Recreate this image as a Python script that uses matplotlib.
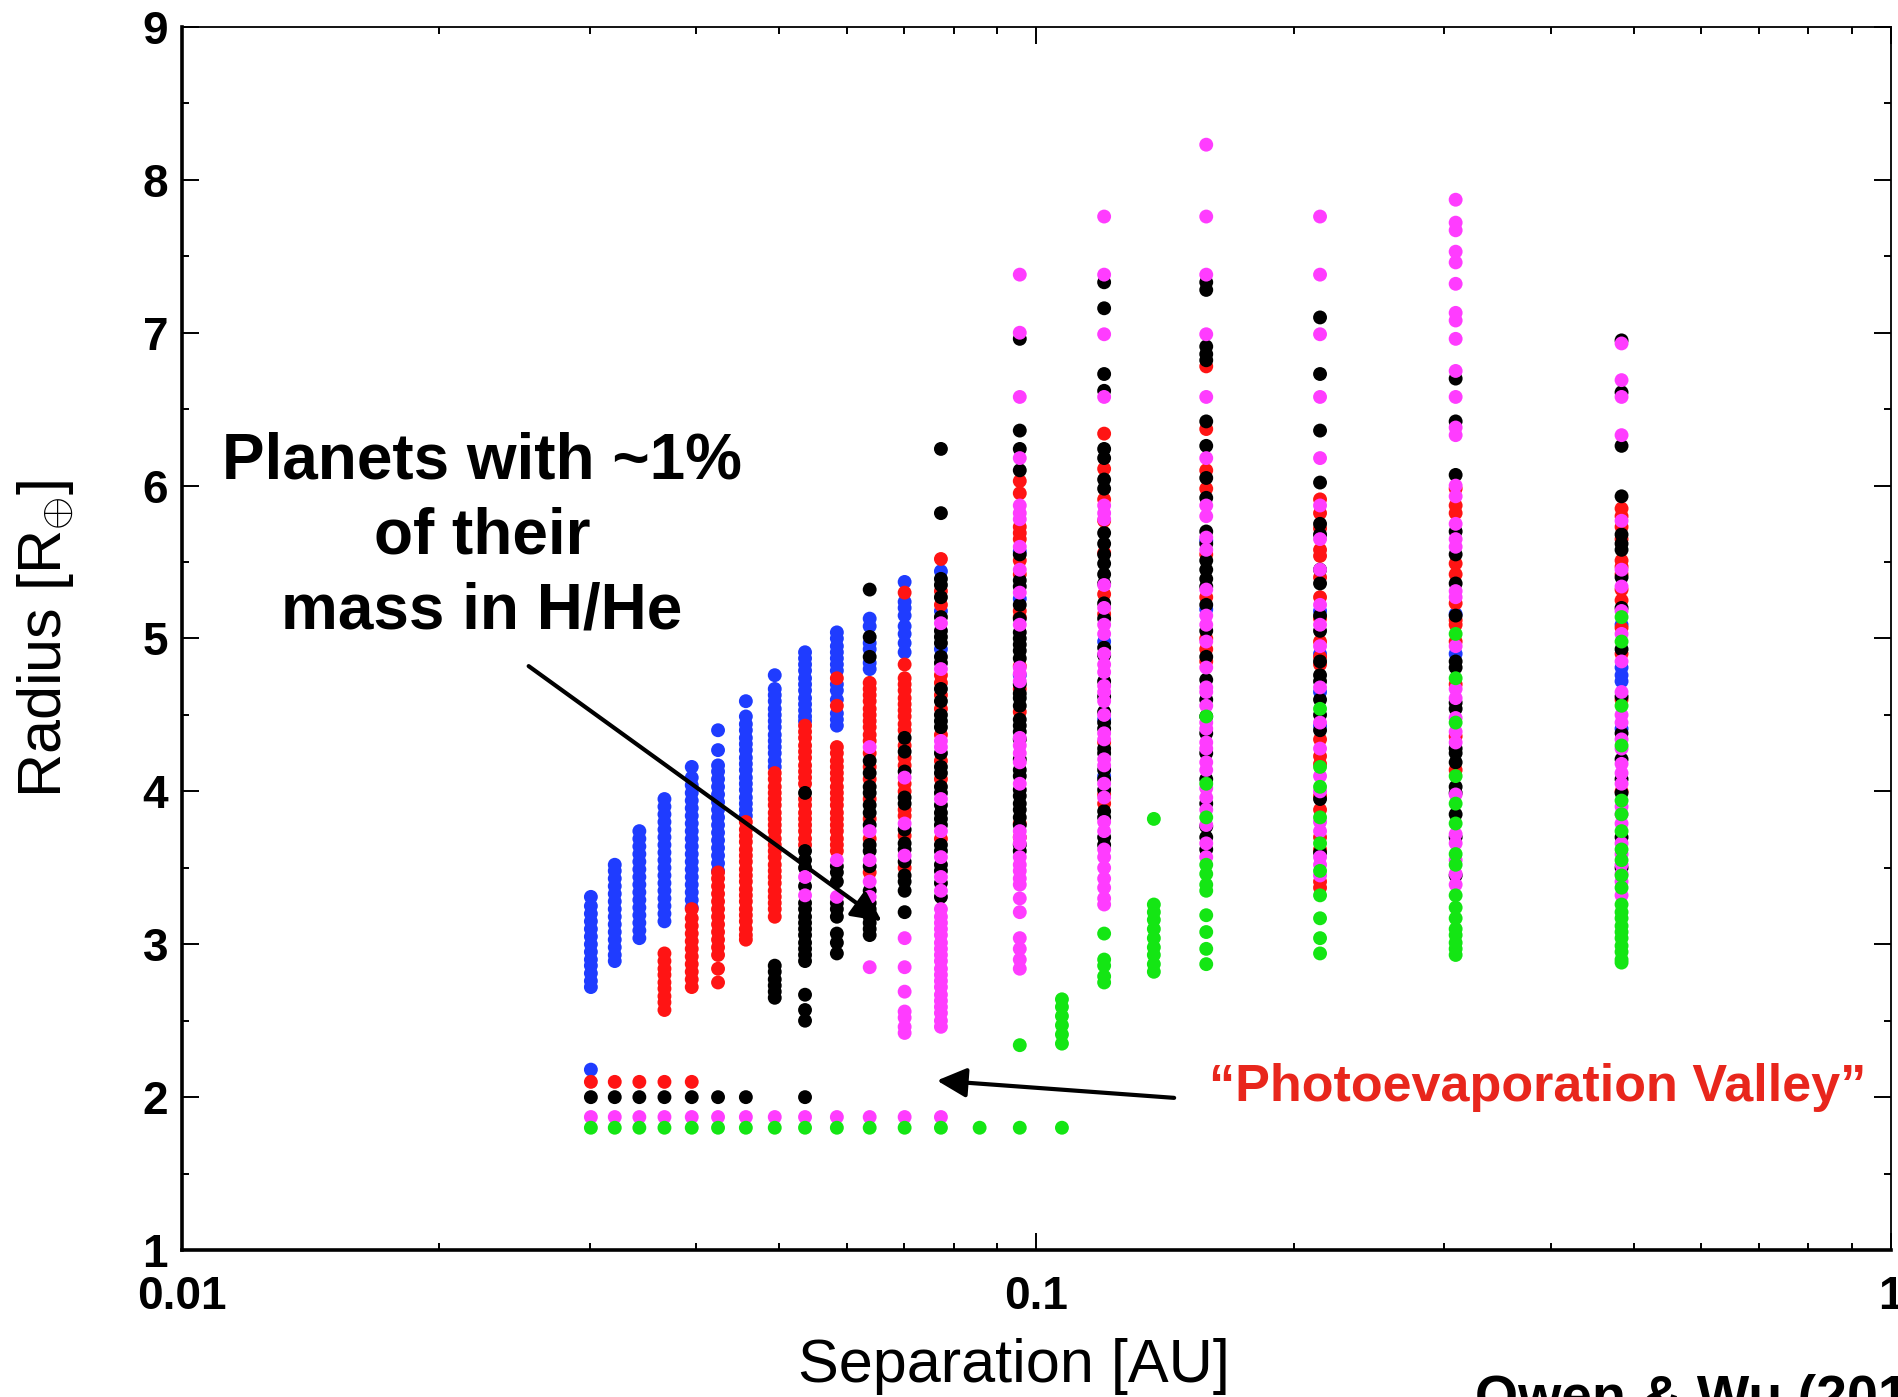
import matplotlib
matplotlib.use("Agg")
import matplotlib.pyplot as plt
from matplotlib.ticker import LogLocator, FixedLocator, MultipleLocator

plt.rcParams["font.family"] = ["Liberation Sans", "DejaVu Sans"]
plt.rcParams["mathtext.fontset"] = "custom"
plt.rcParams["mathtext.rm"] = "Liberation Sans"

# Separations of the model columns [AU]
sep = [0.0301, 0.0321, 0.0343, 0.0367, 0.0395, 0.0424, 0.0457, 0.0494,
       0.0536, 0.0584, 0.0638, 0.0701, 0.0773, 0.0858, 0.0956, 0.1071,
       0.120, 0.1372, 0.158, 0.2147, 0.3094, 0.4838]

# Radii per column, one list per colour [R_earth]
blue = [
    [2.18, 2.72, 2.76, 2.81, 2.86, 2.90, 2.95, 3.00, 3.05, 3.10, 3.15, 3.20, 3.25, 3.31],
    [2.89, 2.93, 2.98, 3.03, 3.08, 3.13, 3.18, 3.23, 3.28, 3.33, 3.38, 3.43, 3.48, 3.52],
    [3.04, 3.09, 3.14, 3.19, 3.24, 3.29, 3.34, 3.39, 3.44, 3.49, 3.54, 3.59, 3.64, 3.69, 3.74],
    [3.15, 3.20, 3.25, 3.30, 3.35, 3.40, 3.45, 3.50, 3.55, 3.60, 3.65, 3.70, 3.75, 3.80, 3.85, 3.90, 3.95],
    [3.24, 3.29, 3.34, 3.39, 3.44, 3.49, 3.54, 3.59, 3.64, 3.69, 3.74, 3.79, 3.84, 3.89, 3.94, 3.99, 4.04, 4.09, 4.16],
    [3.48, 3.53, 3.58, 3.63, 3.68, 3.73, 3.78, 3.83, 3.88, 3.93, 3.98, 4.03, 4.08, 4.13, 4.17, 4.27, 4.40],
    [3.84, 3.88, 3.92, 3.96, 4.01, 4.05, 4.09, 4.14, 4.18, 4.22, 4.27, 4.31, 4.35, 4.40, 4.44, 4.49, 4.59],
    [4.16, 4.20, 4.25, 4.29, 4.33, 4.37, 4.42, 4.46, 4.50, 4.54, 4.59, 4.63, 4.67, 4.76],
    [4.46, 4.49, 4.53, 4.57, 4.61, 4.66, 4.70, 4.74, 4.79, 4.83, 4.87, 4.91],
    [4.43, 4.47, 4.51, 4.60, 4.66, 4.70, 4.79, 4.83, 4.87, 4.91, 4.95, 5.00, 5.04],
    [4.80, 4.84, 4.93, 4.97, 5.08, 5.13],
    [4.91, 4.97, 5.03, 5.08, 5.15, 5.20, 5.24, 5.37],
    [4.93, 5.18, 5.44],
    [],
    [4.76, 5.26, 5.57],
    [],
    [4.10, 4.47, 4.98],
    [],
    [5.19, 5.64],
    [4.43, 4.65, 4.90, 5.18],
    [4.90, 5.16],
    [4.41, 4.72, 4.76, 4.81, 5.09],
]

red = [
    [2.10],
    [2.10],
    [2.10],
    [2.10, 2.57, 2.62, 2.66, 2.71, 2.75, 2.80, 2.84, 2.89, 2.94],
    [2.10, 2.72, 2.77, 2.82, 2.87, 2.92, 2.97, 3.02, 3.07, 3.12, 3.17, 3.23],
    [2.75, 2.84, 2.93, 2.98, 3.03, 3.08, 3.13, 3.18, 3.23, 3.28, 3.33, 3.38, 3.43, 3.47],
    [3.03, 3.06, 3.10, 3.15, 3.19, 3.23, 3.28, 3.32, 3.36, 3.41, 3.45, 3.49, 3.54, 3.58,
     3.62, 3.67, 3.71, 3.75, 3.80],
    [3.18, 3.23, 3.27, 3.31, 3.35, 3.40, 3.44, 3.48, 3.52, 3.57, 3.61, 3.65, 3.69, 3.74,
     3.78, 3.82, 3.86, 3.91, 3.95, 3.99, 4.03, 4.08, 4.12],
    [3.65, 3.69, 3.74, 3.78, 3.82, 3.86, 3.91, 3.95, 4.05, 4.09, 4.13, 4.17, 4.22, 4.26,
     4.30, 4.35, 4.39, 4.43],
    [3.61, 3.65, 3.69, 3.74, 3.78, 3.82, 3.86, 3.91, 3.95, 3.99, 4.03, 4.08, 4.12, 4.16,
     4.20, 4.25, 4.29, 4.56, 4.74],
    [3.47, 3.69, 3.82, 3.95, 4.08, 4.16, 4.25, 4.33, 4.37, 4.42, 4.46, 4.50, 4.54, 4.59,
     4.63, 4.67, 4.71],
    [3.50, 3.71, 3.84, 3.88, 4.00, 4.05, 4.17, 4.22, 4.30, 4.40, 4.44, 4.49, 4.53, 4.57,
     4.61, 4.66, 4.70, 4.74, 4.83, 5.30],
    [3.69, 4.08, 4.20, 4.37, 4.54, 4.63, 4.71, 4.76, 5.22, 5.31, 5.52],
    [],
    [3.70, 3.79, 4.52, 4.67, 4.82, 5.14, 5.18, 5.42, 5.51, 5.65, 5.69, 5.73, 5.95, 6.03],
    [],
    [3.92, 3.98, 4.32, 5.16, 5.29, 5.56, 5.77, 5.91, 6.11, 6.34],
    [],
    [4.85, 4.93, 5.00, 5.27, 5.55, 5.98, 6.10, 6.37, 6.78],
    [3.37, 3.41, 3.62, 3.70, 3.88, 3.97, 4.18, 4.23, 4.34, 4.83, 4.88, 4.98, 5.13, 5.27,
     5.40, 5.54, 5.58, 5.72, 5.82, 5.91],
    [4.14, 4.36, 4.70, 4.98, 5.09, 5.12, 5.23, 5.42, 5.49, 5.82, 5.87, 5.98],
    [4.00, 4.60, 4.90, 5.07, 5.25, 5.32, 5.42, 5.47, 5.51, 5.65, 5.73, 5.80, 5.85],
]

black = [
    [2.00], [2.00], [2.00], [2.00], [2.00], [2.00], [2.00],
    [2.65, 2.69, 2.73, 2.77, 2.82, 2.86],
    [2.00, 2.50, 2.57, 2.67, 2.89, 2.93, 2.97, 3.01, 3.06, 3.10, 3.14, 3.18, 3.23, 3.27,
     3.38, 3.50, 3.55, 3.61, 3.99],
    [2.94, 3.01, 3.07, 3.18, 3.23, 3.27, 3.41, 3.47, 3.51],
    [3.06, 3.10, 3.14, 3.18, 3.23, 3.27, 3.35, 3.51, 3.61, 3.65, 3.78, 3.86, 3.91, 3.99,
     4.03, 4.12, 4.20, 4.88, 5.01, 5.32],
    [3.21, 3.35, 3.41, 3.45, 3.54, 3.62, 3.66, 3.75, 3.92, 3.96, 4.13, 4.26, 4.35],
    [3.31, 3.40, 3.48, 3.52, 3.61, 3.65, 3.78, 3.82, 3.86, 3.91, 3.99, 4.03, 4.12, 4.16,
     4.25, 4.42, 4.46, 4.50, 4.59, 4.67, 4.84, 4.88, 4.97, 5.01, 5.05, 5.14, 5.27, 5.35,
     5.39, 5.82, 6.24],
    [],
    [3.61, 3.65, 3.78, 3.83, 3.88, 3.92, 3.97, 4.01, 4.10, 4.14, 4.21, 4.34, 4.39, 4.43,
     4.47, 4.56, 4.61, 4.64, 4.70, 4.87, 4.92, 4.96, 5.00, 5.04, 5.13, 5.22, 5.34, 5.38,
     5.55, 6.10, 6.24, 6.36, 6.96],
    [],
    [3.65, 3.70, 3.83, 3.87, 4.01, 4.08, 4.14, 4.25, 4.28, 4.41, 4.45, 4.52, 4.62, 4.72,
     4.89, 4.94, 5.13, 5.23, 5.36, 5.42, 5.49, 5.55, 5.62, 5.69, 5.98, 6.04, 6.18, 6.24,
     6.62, 6.73, 7.16, 7.33],
    [],
    [3.62, 3.70, 3.77, 3.92, 4.08, 4.25, 4.38, 4.49, 4.60, 4.73, 4.88, 5.05, 5.22, 5.34,
     5.39, 5.45, 5.51, 5.62, 5.70, 5.92, 6.05, 6.26, 6.42, 6.82, 6.86, 6.91, 7.28, 7.33],
    [3.60, 3.95, 4.40, 4.50, 4.60, 4.72, 4.76, 4.85, 5.05, 5.15, 5.36, 5.45, 5.68, 5.75,
     6.02, 6.36, 6.73, 7.10],
    [3.45, 3.70, 3.85, 3.99, 4.03, 4.19, 4.25, 4.28, 4.54, 4.58, 4.81, 4.85, 5.15, 5.36,
     5.55, 5.70, 6.07, 6.42, 6.70],
    [3.50, 3.70, 3.99, 4.08, 4.21, 4.38, 4.62, 4.93, 5.20, 5.40, 5.58, 5.62, 5.68, 5.93,
     6.26, 6.61, 6.95],
]

magenta = [
    [1.87], [1.87], [1.87], [1.87], [1.87], [1.87], [1.87], [1.87],
    [1.87, 3.32, 3.44],
    [1.87, 3.31, 3.55],
    [1.87, 2.85, 3.31, 3.41, 3.55, 3.74, 4.29],
    [1.87, 2.42, 2.46, 2.52, 2.56, 2.69, 2.85, 3.04, 3.58, 3.79, 4.09],
    [1.87, 2.46, 2.50, 2.55, 2.59, 2.63, 2.67, 2.72, 2.76, 2.80, 2.84, 2.89, 2.93, 2.97,
     3.01, 3.06, 3.10, 3.14, 3.18, 3.23, 3.35, 3.44, 3.57, 3.74, 3.95, 4.29, 4.33, 4.80, 5.10],
    [],
    [2.84, 2.90, 2.97, 3.04, 3.21, 3.30, 3.39, 3.43, 3.48, 3.52, 3.57, 3.66, 3.70, 3.74,
     4.05, 4.19, 4.25, 4.30, 4.35, 4.72, 4.77, 4.81, 5.09, 5.30, 5.45, 5.60, 5.78, 5.82,
     5.87, 6.18, 6.58, 7.00, 7.38],
    [],
    [3.26, 3.30, 3.37, 3.43, 3.50, 3.57, 3.62, 3.74, 3.80, 3.96, 4.05, 4.17, 4.21, 4.34,
     4.38, 4.50, 4.59, 4.65, 4.69, 4.78, 4.83, 4.90, 5.03, 5.09, 5.20, 5.35, 5.78, 5.82,
     5.87, 6.58, 6.99, 7.38, 7.76],
    [],
    [3.57, 3.66, 3.78, 3.88, 3.96, 4.02, 4.14, 4.19, 4.28, 4.32, 4.41, 4.45, 4.56, 4.65,
     4.68, 4.81, 4.98, 5.09, 5.15, 5.32, 5.58, 5.66, 5.80, 5.87, 6.18, 6.58, 6.99, 7.38,
     7.76, 8.23],
    [3.45, 3.52, 3.57, 3.74, 3.80, 4.00, 4.10, 4.28, 4.45, 4.68, 4.95, 5.09, 5.22, 5.45,
     5.65, 5.87, 6.18, 6.58, 6.99, 7.38, 7.76],
    [3.39, 3.46, 3.55, 3.66, 3.72, 3.98, 4.32, 4.39, 4.48, 4.61, 4.67, 4.95, 5.27, 5.31,
     5.60, 5.65, 5.75, 5.93, 6.00, 6.33, 6.38, 6.58, 6.75, 6.96, 7.08, 7.13, 7.32, 7.46,
     7.53, 7.67, 7.72, 7.87],
    [3.32, 3.41, 3.46, 3.52, 3.59, 3.66, 3.79, 3.85, 3.90, 4.05, 4.12, 4.18, 4.28, 4.34,
     4.45, 4.50, 4.65, 4.85, 5.03, 5.18, 5.34, 5.45, 5.77, 6.33, 6.58, 6.69, 6.93],
]

green = [
    [1.80], [1.80], [1.80], [1.80], [1.80], [1.80], [1.80], [1.80], [1.80], [1.80],
    [1.80], [1.80], [1.80], [1.80],
    [1.80, 2.34],
    [1.80, 2.35, 2.41, 2.47, 2.53, 2.59, 2.64],
    [2.75, 2.79, 2.86, 2.90, 3.07],
    [2.82, 2.87, 2.93, 2.98, 3.04, 3.10, 3.16, 3.21, 3.26, 3.82],
    [2.87, 2.97, 3.08, 3.19, 3.35, 3.39, 3.46, 3.52, 3.83, 4.05, 4.49],
    [2.94, 3.04, 3.17, 3.32, 3.48, 3.66, 3.83, 4.03, 4.16, 4.54],
    [2.93, 2.97, 3.01, 3.06, 3.10, 3.17, 3.24, 3.32, 3.52, 3.59, 3.79, 3.92, 4.10, 4.45,
     4.74, 5.03],
    [2.88, 2.90, 2.95, 2.99, 3.04, 3.08, 3.12, 3.17, 3.21, 3.26, 3.37, 3.45, 3.55, 3.62,
     3.74, 3.85, 3.94, 4.30, 4.56, 4.98, 5.14],
]

series = [
    (blue, "#1f3cff"),
    (red, "#ff1414"),
    (black, "#000000"),
    (magenta, "#ff3cff"),
    (green, "#14e614"),
]


def flatten(cols):
    xs, ys = [], []
    for s, rs in zip(sep, cols):
        xs += [s] * len(rs)
        ys += rs
    return xs, ys


fig = plt.figure(figsize=(18.99, 13.97), dpi=100)
ax = fig.add_axes([0.0958, 0.1052, 0.90, 0.8755])

for cols, color in series:
    xs, ys = flatten(cols)
    ax.scatter(xs, ys, s=100, color=color, edgecolors="none", zorder=3)

ax.set_xscale("log")
ax.set_xlim(0.01, 1)
ax.set_ylim(1, 9)

ax.xaxis.set_major_locator(FixedLocator([0.01, 0.1, 1]))
ax.set_xticklabels(["0.01", "0.1", "1"])
ax.xaxis.set_minor_locator(LogLocator(base=10, subs=range(2, 10)))
ax.xaxis.set_minor_formatter(plt.NullFormatter())
ax.yaxis.set_major_locator(MultipleLocator(1))
ax.yaxis.set_minor_locator(MultipleLocator(0.5))

ax.tick_params(which="both", direction="in", top=True, right=True, width=1.4)
ax.tick_params(which="major", length=12, labelsize=33)
ax.tick_params(axis="x", which="major", pad=18)
ax.tick_params(axis="y", which="major", pad=10)
ax.tick_params(which="minor", length=5)
for lab in ax.get_xticklabels() + ax.get_yticklabels():
    lab.set_fontweight("bold")

for side in ["left", "bottom"]:
    ax.spines[side].set_linewidth(2.6)
for side in ["top", "right"]:
    ax.spines[side].set_linewidth(1.3)

ax.set_xlabel("Separation [AU]", fontsize=44)
ax.set_ylabel(r"Radius [R$_{\oplus}$]", fontsize=44)
ax.xaxis.set_label_coords(0.487, -0.072)
ax.yaxis.set_label_coords(-0.062, 0.50)

# Annotations
ax.text(0.02244, 5.67, "Planets with ~1%\nof their\nmass in H/He", ha="center", va="center",
        fontsize=46, fontweight="bold", linespacing=1.32, zorder=5)
ax.annotate("", xy=(0.0663, 3.14), xytext=(0.0253, 4.83),
            arrowprops=dict(arrowstyle="-|>", lw=3, color="k", mutation_scale=45), zorder=6)

ax.text(0.159, 2.066, "\u201cPhotoevaporation Valley\u201d", ha="left", va="center",
        fontsize=37.5, fontweight="bold", color="#e8261c", zorder=5)
ax.annotate("", xy=(0.0759, 2.11), xytext=(0.146, 1.994),
            arrowprops=dict(arrowstyle="-|>", lw=3, color="k", mutation_scale=45), zorder=6)

fig.text(1475 / 1899, 1 - 1374 / 1397, "Owen & Wu (2017)", ha="left", va="top",
         fontsize=40, fontweight="bold")

fig.savefig("out.png", dpi=100)
